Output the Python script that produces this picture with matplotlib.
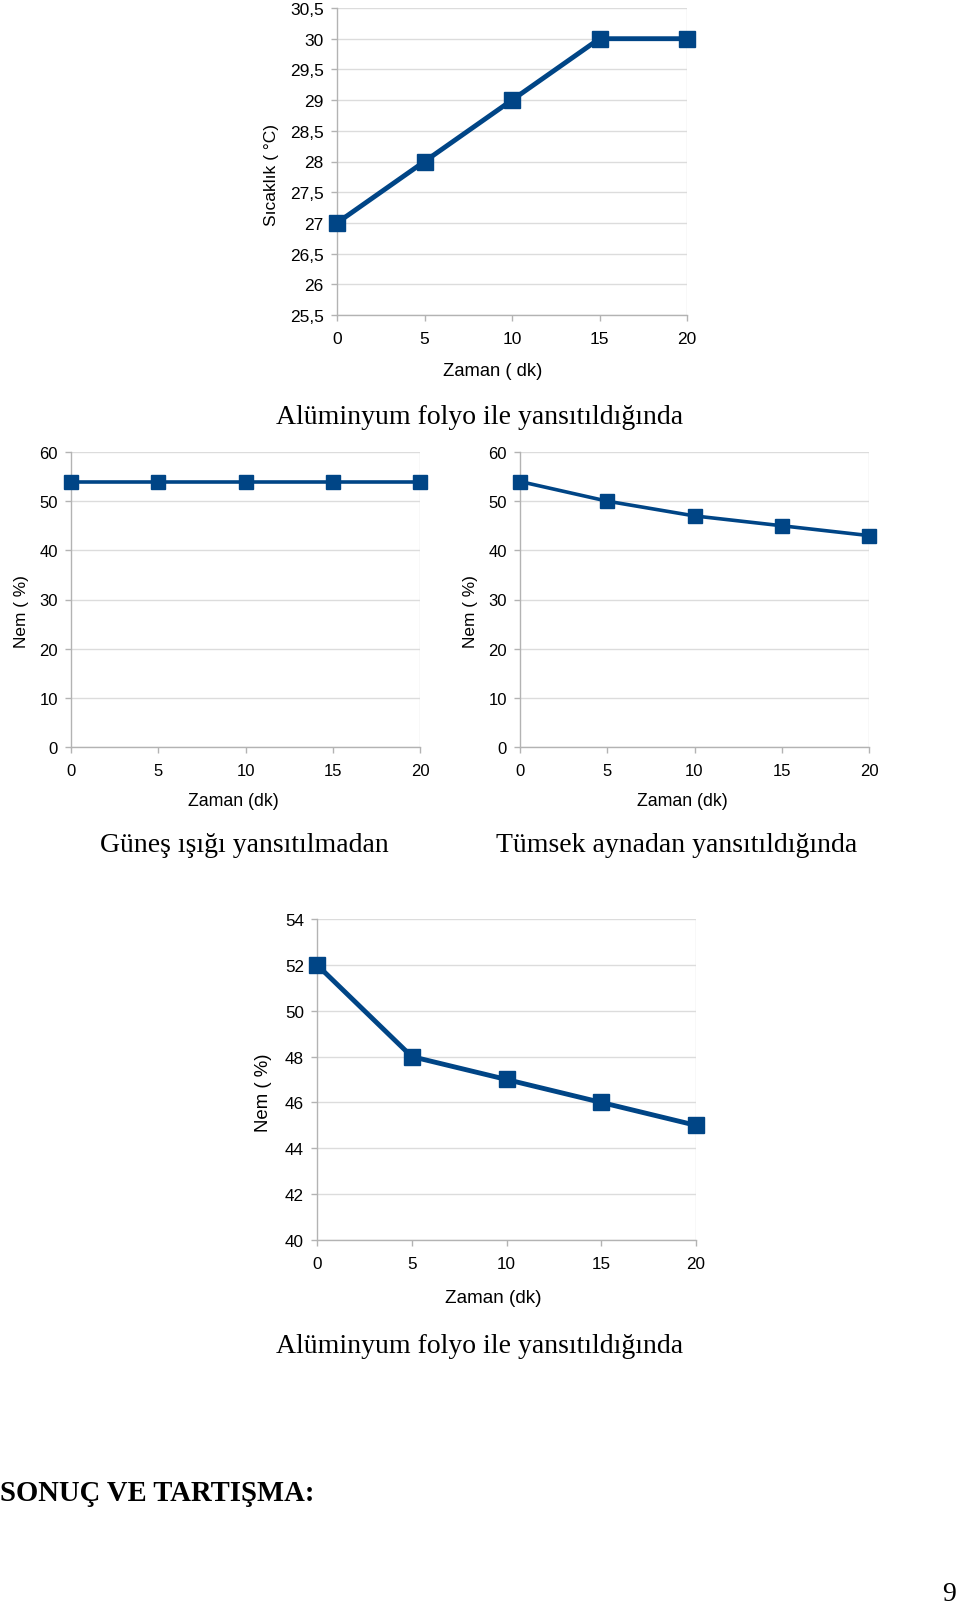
import matplotlib
matplotlib.use("Agg")
import matplotlib.pyplot as plt
from matplotlib.ticker import FuncFormatter, MultipleLocator

# ---- data ----
zaman = [0, 5, 10, 15, 20]
sicaklik_folyo = [27, 28, 29, 30, 30]
nem_gunes = [54, 54, 54, 54, 54]
nem_tumsek = [54, 50, 47, 45, 43]
nem_folyo = [52, 48, 47, 46, 45]

title_folyo = "Alüminyum folyo ile yansıtıldığında"
title_gunes = "Güneş ışığı yansıtılmadan"
title_tumsek = "Tümsek aynadan yansıtıldığında"
heading = "SONUÇ VE TARTIŞMA:"
page_no = "9"

W, H = 960, 1606
DPI = 100
fig = plt.figure(figsize=(W / DPI, H / DPI), dpi=DPI)
fig.patch.set_facecolor("white")

LINE = "#004586"
GRID = "#dcdcdc"
AXC = "#b3b3b3"
SANS = ["Liberation Sans", "DejaVu Sans"]
SERIF = ["Liberation Serif", "DejaVu Serif"]


def rect(l, r, t, b):
    return [l / W, 1 - b / H, (r - l) / W, (b - t) / H]


def comma(v, pos):
    return ("%g" % v).replace(".", ",")


def make(box, y, ylim, ystep, ylabel, xlabel, fs, xfs, yfs, lw, ms, ylab_xy, xlab_xy):
    ax = fig.add_axes(rect(*box))
    ax.plot(zaman, y, color=LINE, lw=lw, marker="s", ms=ms,
            markerfacecolor=LINE, markeredgecolor=LINE, clip_on=False, zorder=5)
    ax.set_xlim(0, 20)
    ax.set_ylim(*ylim)
    ax.xaxis.set_major_locator(MultipleLocator(5))
    ax.yaxis.set_major_locator(MultipleLocator(ystep))
    ax.yaxis.set_major_formatter(FuncFormatter(comma))
    ax.grid(axis="y", color=GRID, lw=1)
    ax.axvline(20, color=GRID, lw=1, zorder=0)
    for s in ["top", "right"]:
        ax.spines[s].set_visible(False)
    for s in ["left", "bottom"]:
        ax.spines[s].set_color(AXC)
        ax.spines[s].set_linewidth(1)
    ax.set_axisbelow(True)
    ax.tick_params(axis="both", colors=AXC, length=4, width=1, labelcolor="black",
                   labelsize=fs)
    ax.tick_params(axis="y", pad=5.5)
    ax.tick_params(axis="x", pad=7.5)
    for lab in ax.get_xticklabels() + ax.get_yticklabels():
        lab.set_family(SANS)
    ax.set_ylabel(ylabel, fontsize=yfs, family=SANS, va="center")
    ax.set_xlabel(xlabel, fontsize=xfs, family=SANS, va="center")
    ax.yaxis.set_label_coords(*ylab_xy)
    ax.xaxis.set_label_coords(*xlab_xy)
    return ax


make((337, 687, 9, 316), sicaklik_folyo, (25.5, 30.5), 0.5,
     "Sıcaklık ( °C)", "Zaman ( dk)", 12.5, 13.2, 12.5, 3.5, 11,
     (-0.186, 0.46), (0.446, -0.182))
make((71, 420, 453, 748), nem_gunes, (0, 60), 10,
     "Nem ( %)", "Zaman (dk)", 12, 12.8, 12.4, 2.6, 9.5,
     (-0.143, 0.462), (0.464, -0.182))
make((520, 869, 453, 748), nem_tumsek, (0, 60), 10,
     "Nem ( %)", "Zaman (dk)", 12, 12.8, 12.4, 2.6, 9.5,
     (-0.143, 0.462), (0.464, -0.182))
make((317, 696, 920, 1241), nem_folyo, (40, 54), 2,
     "Nem ( %)", "Zaman (dk)", 12.3, 13.6, 13.4, 3.5, 11,
     (-0.142, 0.461), (0.464, -0.18))


def ftext(x, y, s, **kw):
    fig.text(x / W, 1 - y / H, s, **kw)


ftext(480, 418, title_folyo, ha="center", va="center", fontsize=20, family=SERIF)
ftext(244, 846, title_gunes, ha="center", va="center", fontsize=20, family=SERIF)
ftext(677, 846, title_tumsek, ha="center", va="center", fontsize=20, family=SERIF)
ftext(480, 1347, title_folyo, ha="center", va="center", fontsize=20, family=SERIF)
ftext(0, 1494, heading, ha="left", va="center", fontsize=20.6, family=SERIF,
      fontweight="bold")
ftext(942, 1595, page_no, ha="left", va="center", fontsize=20, family=SERIF)

fig.savefig("out.png", dpi=DPI, facecolor="white")
